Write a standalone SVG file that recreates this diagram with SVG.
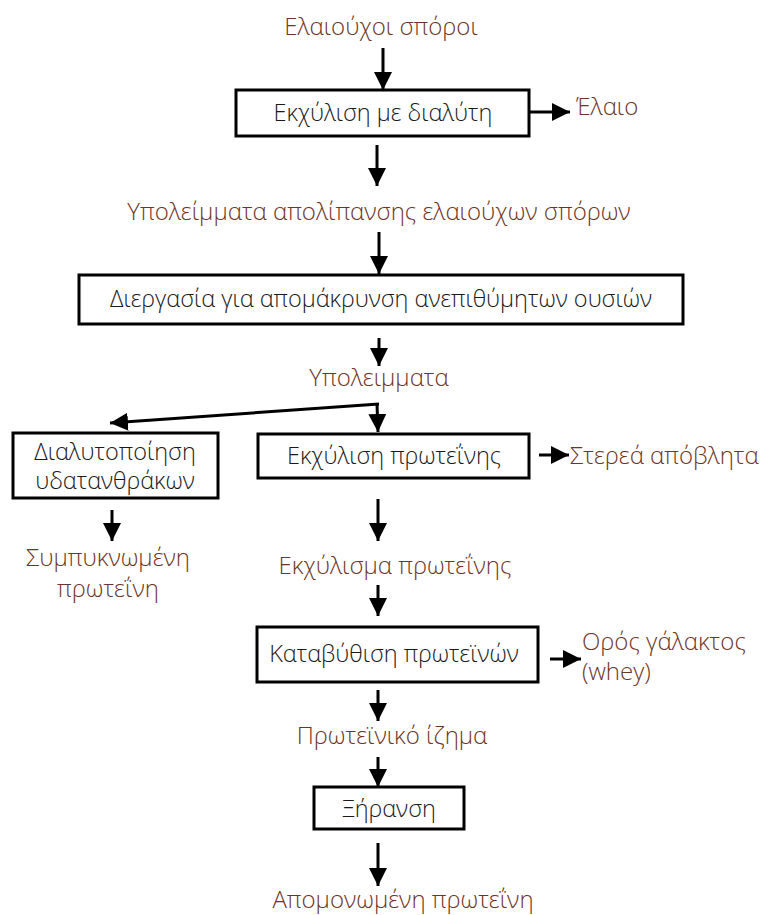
<svg xmlns="http://www.w3.org/2000/svg" width="763" height="915" viewBox="0 0 763 915">
<defs>
<marker id="ah" viewBox="0 0 10 10" refX="10" refY="5" markerWidth="6" markerHeight="6.3" markerUnits="strokeWidth" orient="auto">
<path d="M0,0 L10,5 L0,10 Z" fill="#000"/>
</marker>
</defs>
<style>
.box{fill:#fff;stroke:#000;stroke-width:3}
.bt{font-family:"Open Sans","Noto Sans","Liberation Sans",sans-serif;font-size:23.5px;fill:#1a1a1a;text-anchor:middle;font-weight:300}
.lt{font-family:"Open Sans","Noto Sans","Liberation Sans",sans-serif;font-size:24px;fill:#6e3526;font-weight:300}
.c{text-anchor:middle}
.ln{stroke:#000;stroke-width:3;fill:none;marker-end:url(#ah)}
</style>
<rect width="763" height="915" fill="#fff"/>
<g id="connectors">
<line class="ln" x1="383" y1="48" x2="383" y2="90"/>
<line class="ln" x1="529" y1="112" x2="570" y2="112"/>
<line class="ln" x1="377" y1="145" x2="377" y2="186"/>
<line class="ln" x1="379" y1="232" x2="379" y2="274"/>
<line class="ln" x1="379" y1="338" x2="379" y2="366"/>
<polyline class="ln" points="377,404 378,432"/>
<polyline class="ln" points="379,404 110,423"/>
<line class="ln" x1="112" y1="510" x2="112" y2="541"/>
<line class="ln" x1="539" y1="455" x2="569" y2="455"/>
<line class="ln" x1="378" y1="499" x2="378" y2="541"/>
<line class="ln" x1="378" y1="585" x2="378" y2="616"/>
<line class="ln" x1="550" y1="659" x2="581" y2="659"/>
<line class="ln" x1="378" y1="690" x2="378" y2="721"/>
<line class="ln" x1="378" y1="757" x2="378" y2="787"/>
<line class="ln" x1="378" y1="843" x2="378" y2="886"/>
</g>
<g id="seeds"><text class="lt c" x="381" y="35">Ελαιούχοι σπόροι</text></g>
<g id="extraction"><rect class="box" x="236" y="90" width="293" height="46"/><text class="bt" x="383" y="121">Εκχύλιση με διαλύτη</text></g>
<g id="oil"><text class="lt" x="576" y="115">Έλαιο</text></g>
<g id="residues1"><text class="lt c" x="379" y="220">Υπολείμματα απολίπανσης ελαιούχων σπόρων</text></g>
<g id="process"><rect class="box" x="79" y="275" width="604" height="49"/><text class="bt" x="381" y="307">Διεργασία για απομάκρυνση ανεπιθύμητων ουσιών</text></g>
<g id="residues2"><text class="lt c" x="379" y="386">Υπολειμματα</text></g>
<g id="solubilization"><rect class="box" x="13" y="433" width="205" height="65"/><text class="bt" x="115" y="460">Διαλυτοποίηση</text><text class="bt" x="115" y="489">υδατανθράκων</text></g>
<g id="concentrate"><text class="lt c" x="108" y="566">Συμπυκνωμένη</text><text class="lt c" x="108" y="597">πρωτεΐνη</text></g>
<g id="protein-extraction"><rect class="box" x="258" y="434" width="271" height="44"/><text class="bt" x="394" y="464">Εκχύλιση πρωτεΐνης</text></g>
<g id="solid-waste"><text class="lt" x="570" y="464">Στερεά απόβλητα</text></g>
<g id="extract"><text class="lt c" x="395" y="574">Εκχύλισμα πρωτεΐνης</text></g>
<g id="precipitation"><rect class="box" x="257" y="627" width="281" height="55"/><text class="bt" x="394" y="662">Καταβύθιση πρωτεϊνών</text></g>
<g id="whey"><text class="lt" x="582" y="650">Ορός γάλακτος</text><text class="lt" x="582" y="680">(whey)</text></g>
<g id="precipitate"><text class="lt c" x="392" y="744">Πρωτεϊνικό ίζημα</text></g>
<g id="drying"><rect class="box" x="314" y="787" width="150" height="42"/><text class="bt" x="389" y="817">Ξήρανση</text></g>
<g id="isolate"><text class="lt c" x="403" y="908">Απομονωμένη πρωτεΐνη</text></g>
</svg>
